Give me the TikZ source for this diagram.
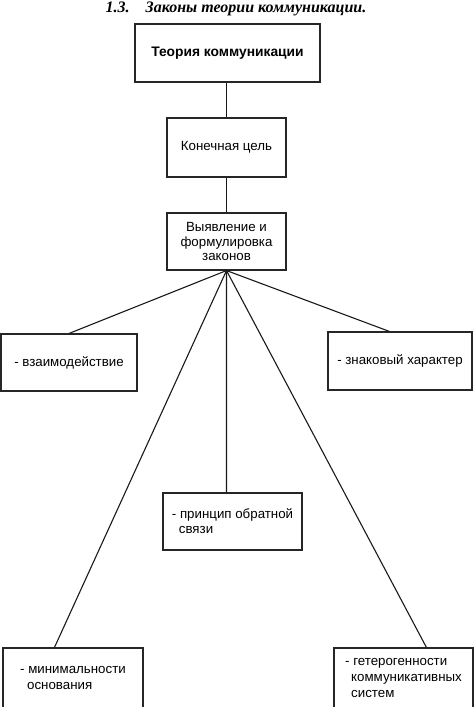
\documentclass[tikz,border=0pt]{standalone}
\usepackage{fontspec}
\setmainfont{Liberation Sans}
\newfontfamily\titlefont{Liberation Serif}
\usetikzlibrary{calc}
\begin{document}
\begin{tikzpicture}[x=1pt,y=-1pt,
  box/.style={draw=black!85,line width=1.1pt,rectangle,inner sep=0pt,font=\fontsize{13.3}{15}\selectfont},
  conn/.style={draw=black!90,line width=1.1pt}]
\useasboundingbox (0,0) rectangle (474,707);
\node[anchor=base,font=\titlefont\bfseries\itshape\fontsize{16}{18}\selectfont] (title) at (236,12) {1.3.\quad Законы теории коммуникации.};
\node[box,minimum width=185pt,minimum height=58pt,font=\bfseries\fontsize{13.8}{15}\selectfont] (b1) at (227.5,53) {Теория коммуникации};
\node[box,minimum width=119pt,minimum height=59pt] (b2) at (226.5,147.5) {Конечная цель};
\node[box,minimum width=119pt,minimum height=57pt,align=center,font=\fontsize{13.3}{14.5}\selectfont] (b3) at (226.5,241.5) {Выявление и\\формулировка\\законов};
\node[box,minimum width=136pt,minimum height=57pt] (l) at (69,362.5) {- взаимодействие};
\node[box,minimum width=144pt,minimum height=58pt] (r) at (400,361) {- знаковый характер};
\node[box,minimum width=139pt,minimum height=57pt,align=left] (m) at (232.5,521.5) {- принцип обратной\\\hspace*{7pt}связи};
\node[box,minimum width=140pt,minimum height=60pt,align=left,font=\fontsize{13.3}{16}\selectfont] (bl) at (73,678) {- минимальности\\\hspace*{7pt}основания};
\node[box,minimum width=139pt,minimum height=60pt,align=left,font=\fontsize{13.3}{16}\selectfont] (br) at (403.5,678) {- гетерогенности\\\hspace*{6pt}коммуникативных\\\hspace*{6pt}систем};
\coordinate (apex) at (b3.south);
\draw[conn] (b2.north |- b1.south) -- (b2.north);
\draw[conn] (b2.south) -- (b3.north);
\draw[conn] (apex) -- (l.north);
\draw[conn] (apex) -- ($(r.north west)+(62,0)$);
\draw[conn] (apex) -- ($(m.north west)+(64,0)$);
\draw[conn] (apex) -- ($(bl.north west)+(52,0)$);
\draw[conn] (apex) -- ($(br.north west)+(93,0)$);
\end{tikzpicture}
\end{document}
